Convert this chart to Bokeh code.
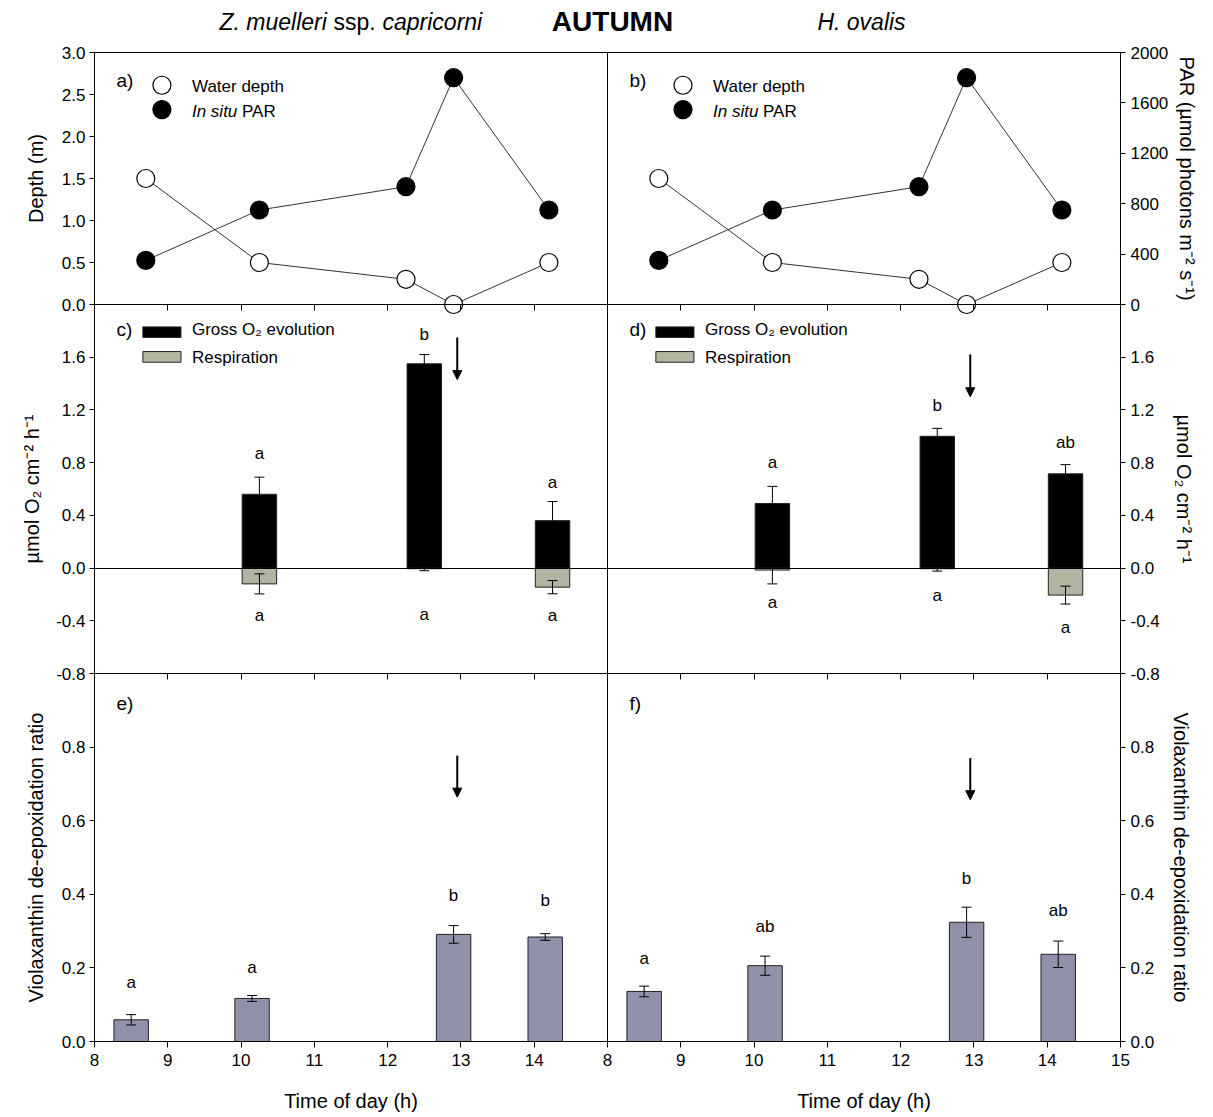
import math
from bokeh.plotting import figure
from bokeh.models import (Range1d, LinearAxis, FixedTicker, NumeralTickFormatter,
                          Label, Arrow, NormalHead, Whisker, TeeHead, ColumnDataSource)
from bokeh.embed import file_html
from bokeh.resources import INLINE
from bokeh.core.properties import value

FONT = "Liberation Sans"

# ---------------- data ----------------
hours = [8, 9, 10, 11, 12, 13, 14, 15]

profile_time = [8.7, 10.25, 12.25, 12.9, 14.2]
water_depth = [1.5, 0.5, 0.3, 0.0, 0.5]
in_situ_par = [350, 750, 935, 1800, 750]

o2_time = [10.25, 12.5, 14.25]
zm_gross = [0.56, 1.55, 0.36]
zm_gross_se = [0.13, 0.07, 0.145]
zm_resp = [-0.12, -0.005, -0.145]
zm_resp_se = [0.076, 0.015, 0.05]
ho_gross = [0.49, 1.00, 0.715]
ho_gross_se = [0.13, 0.06, 0.07]
ho_resp = [-0.015, -0.005, -0.205]
ho_resp_se = [0.105, 0.018, 0.068]

deps_time = [8.5, 10.15, 12.9, 14.15]
zm_deps = [0.059, 0.117, 0.291, 0.284]
zm_deps_se = [0.014, 0.008, 0.024, 0.009]
ho_deps = [0.136, 0.206, 0.324, 0.237]
ho_deps_se = [0.0145, 0.026, 0.041, 0.036]

zm_gross_letters = ["a", "b", "a"]
zm_gross_letter_y = [0.87, 1.77, 0.65]
zm_resp_letters = ["a", "a", "a"]
zm_resp_letter_y = [-0.36, -0.35, -0.36]
ho_gross_letters = ["a", "b", "ab"]
ho_gross_letter_y = [0.80, 1.23, 0.95]
ho_resp_letters = ["a", "a", "a"]
ho_resp_letter_y = [-0.26, -0.21, -0.45]
zm_deps_letters = ["a", "a", "b", "b"]
zm_deps_letter_y = [0.16, 0.20, 0.396, 0.383]
ho_deps_letters = ["a", "ab", "b", "ab"]
ho_deps_letter_y = [0.225, 0.313, 0.442, 0.356]

arrow_time = [12.95, 12.95]
zm_o2_arrow = [1.75, 1.43]
ho_o2_arrow = [1.62, 1.30]
zm_deps_arrow = [0.777, 0.664]
ho_deps_arrow = [0.770, 0.657]

depth_ticks = [0.0, 0.5, 1.0, 1.5, 2.0, 2.5, 3.0]
par_ticks = [0, 400, 800, 1200, 1600, 2000]
o2_ticks = [-0.8, -0.4, 0.0, 0.4, 0.8, 1.2, 1.6]
deps_ticks = [0.0, 0.2, 0.4, 0.6, 0.8]

# ---------------- layout (page pixels) ----------------
W, H = 1210, 1112
XL0, XL1 = 94, 607      # left column: 8 h .. 15 h
XR0, XR1 = 607, 1120    # right column
YA0, YA1 = 52, 304      # panel a/b (top, bottom)
YC0, YC1 = 304, 673     # panel c/d
YE0, YE1 = 673, 1041    # panel e/f
RESP_COLOR = "#b4b4a3"
DEPS_COLOR = "#9192aa"
BAR_W = 0.47
TICK_FS = "17px"
TITLE_FS = "20px"
TEXT_FS = "17px"


def x_map(v0, v1, p0, p1):
    k = (v1 - v0) / (p1 - p0)
    return Range1d(v0 - p0 * k, v0 + (W - p0) * k)


def y_map(v_top, v_bot, p_top, p_bot):
    k = (v_bot - v_top) / (p_bot - p_top)
    return Range1d(v_top + (H - p_top) * k, v_top - p_top * k)


p = figure(width=W, height=H, x_range=Range1d(0, W), y_range=Range1d(0, H),
           output_backend="svg", toolbar_location=None, title=None,
           x_axis_location=None, y_axis_location=None, min_border=0)
p.outline_line_color = None
p.xgrid.visible = False
p.ygrid.visible = False
p.background_fill_color = "white"
p.border_fill_color = "white"
p.extra_x_ranges = {"xl": x_map(8, 15, XL0, XL1), "xr": x_map(8, 15, XR0, XR1)}
p.extra_y_ranges = {"a": y_map(3.0, 0.0, YA0, YA1),
                    "par": y_map(2000, 0, YA0, YA1),
                    "c": y_map(2.0, -0.8, YC0, YC1),
                    "e": y_map(1.0, 0.0, YE0, YE1)}


def add_axis(side, xr, yr, loc, ticks=(), minor=(), bounds="auto", fmt="0.0",
             tick_out=5, minor_out=0, standoff=4):
    ax = LinearAxis(x_range_name=xr, y_range_name=yr, fixed_location=loc, bounds=bounds,
                    ticker=FixedTicker(ticks=list(ticks), minor_ticks=list(minor)),
                    formatter=NumeralTickFormatter(format=fmt))
    ax.axis_line_color = "black"
    ax.axis_line_width = 1
    ax.major_tick_line_color = "black"
    ax.major_tick_in = 0
    ax.major_tick_out = tick_out
    ax.minor_tick_line_color = "black" if minor else None
    ax.minor_tick_in = 0
    ax.minor_tick_out = minor_out
    ax.major_label_text_font = FONT
    ax.major_label_text_font_size = TICK_FS
    ax.major_label_text_color = "black"
    ax.major_label_standoff = standoff
    p.add_layout(ax, side)


def lab(x, y, text, xr="default", yr="default", size=TEXT_FS, style="normal",
        align="left", angle=0.0, x_offset=0):
    p.add_layout(Label(x=x, y=y, text=text, x_range_name=xr, y_range_name=yr,
                       text_font=FONT, text_font_size=size, text_font_style=style,
                       text_color="black", text_align=align, text_baseline="middle",
                       angle=angle, x_offset=x_offset))


# ---- frame lines shared by both columns (pixel coordinates)
add_axis("above", "default", "default", H - YA0, bounds=(XL0, XR1))
add_axis("right", "default", "default", XL1, bounds=(H - YE1, H - YA0))
add_axis("below", "default", "c", 0.0, bounds=(XL0, XR1))   # zero line of c/d

# ---- per-column axes
for xr, side, loc, xticks in [("xl", "left", 8, hours[:-1]), ("xr", "right", 15, hours)]:
    if side == "left":
        add_axis("left", xr, "a", loc, depth_ticks, bounds=(0, 3.0))
    else:
        add_axis("right", xr, "par", loc, par_ticks, bounds=(0, 2000), fmt="0", standoff=5)
    add_axis(side, xr, "c", loc, o2_ticks, bounds=(-0.8, 2.0), standoff=4 if side == "left" else 5)
    add_axis(side, xr, "e", loc, deps_ticks, bounds=(0, 1.0), standoff=4 if side == "left" else 5)
    add_axis("below", xr, "e", 0.0, xticks, bounds=(8, 15), fmt="0", tick_out=6, standoff=6)
    add_axis("below", xr, "a", 0.0, minor=hours, bounds=(8, 15), minor_out=6)
    add_axis("below", xr, "c", -0.8, minor=hours, bounds=(8, 15), minor_out=6)


def draw_column(xr, gross, gross_se, resp, resp_se, deps, deps_se,
                gl, gly, rl, rly, dl, dly, o2_arrow, deps_arrow, letters, leg):
    # ---- depth & PAR
    p.line(profile_time, water_depth, x_range_name=xr, y_range_name="a",
           line_color="#333333", line_width=1)
    p.line(profile_time, in_situ_par, x_range_name=xr, y_range_name="par",
           line_color="#333333", line_width=1)
    p.scatter(profile_time, water_depth, x_range_name=xr, y_range_name="a", marker="circle",
              size=18, fill_color="white", line_color="black", line_width=1.2)
    p.scatter(profile_time, in_situ_par, x_range_name=xr, y_range_name="par", marker="circle",
              size=18, fill_color="black", line_color="black", line_width=1.2)
    lx_c, lx_t, lx_p = leg
    p.scatter([lx_c], [2.61], x_range_name=xr, y_range_name="a", marker="circle", size=18,
              fill_color="white", line_color="black", line_width=1.2)
    p.scatter([lx_c], [2.32], x_range_name=xr, y_range_name="a", marker="circle", size=18,
              fill_color="black", line_color="black", line_width=1.2)
    lab(lx_t, 2.60, "Water depth", xr, "a")
    lab(lx_t, 2.30, "In situ", xr, "a", style="italic")
    lab(lx_t, 2.30, "PAR", xr, "a", x_offset=50)
    lab(lx_p, 2.67, letters[0], xr, "a", size="19px")

    # ---- O2 evolution / respiration
    p.vbar(x=o2_time, width=BAR_W, top=0, bottom=resp, x_range_name=xr, y_range_name="c",
           fill_color=RESP_COLOR, line_color="#222222", line_width=1)
    p.vbar(x=o2_time, width=BAR_W, top=gross, bottom=0, x_range_name=xr, y_range_name="c",
           fill_color="black", line_color="#222222", line_width=1)
    gsrc = ColumnDataSource(dict(base=o2_time, lower=gross,
                                 upper=[g + s for g, s in zip(gross, gross_se)]))
    p.add_layout(Whisker(source=gsrc, base="base", lower="lower", upper="upper",
                         x_range_name=xr, y_range_name="c", line_color="black", line_width=1,
                         upper_head=TeeHead(size=10, line_color="black", line_width=1),
                         lower_head=None, level="annotation"))
    rsrc = ColumnDataSource(dict(base=o2_time,
                                 lower=[r - s for r, s in zip(resp, resp_se)],
                                 upper=[r + s for r, s in zip(resp, resp_se)]))
    p.add_layout(Whisker(source=rsrc, base="base", lower="lower", upper="upper",
                         x_range_name=xr, y_range_name="c", line_color="black", line_width=1,
                         upper_head=TeeHead(size=10, line_color="black", line_width=1),
                         lower_head=TeeHead(size=10, line_color="black", line_width=1),
                         level="annotation"))
    for ys, ts in [(gly, gl), (rly, rl)]:
        p.text(x=o2_time, y=ys, text=ts, x_range_name=xr, y_range_name="c",
               text_font=value(FONT), text_font_size=value(TEXT_FS), text_align="center",
               text_baseline="middle", text_color="black")
    p.add_layout(Arrow(end=NormalHead(size=9, fill_color="black", line_color="black"),
                       x_start=arrow_time[0], y_start=o2_arrow[0],
                       x_end=arrow_time[1], y_end=o2_arrow[1],
                       x_range_name=xr, y_range_name="c", line_color="black", line_width=2))
    p.quad(left=[8.66], right=[9.18], top=[1.83], bottom=[1.75], x_range_name=xr,
           y_range_name="c", fill_color="black", line_color="#222222")
    p.quad(left=[8.66], right=[9.18], top=[1.643], bottom=[1.562], x_range_name=xr,
           y_range_name="c", fill_color=RESP_COLOR, line_color="#222222")
    lab(9.33, 1.81, "Gross O₂ evolution", xr, "c")
    lab(9.33, 1.60, "Respiration", xr, "c")
    lab(8.3, 1.81, letters[1], xr, "c", size="19px")

    # ---- de-epoxidation ratio
    p.vbar(x=deps_time, width=BAR_W, top=deps, bottom=0, x_range_name=xr, y_range_name="e",
           fill_color=DEPS_COLOR, line_color="#222222", line_width=1)
    dsrc = ColumnDataSource(dict(base=deps_time,
                                 lower=[d - s for d, s in zip(deps, deps_se)],
                                 upper=[d + s for d, s in zip(deps, deps_se)]))
    p.add_layout(Whisker(source=dsrc, base="base", lower="lower", upper="upper",
                         x_range_name=xr, y_range_name="e", line_color="black", line_width=1,
                         upper_head=TeeHead(size=10, line_color="black", line_width=1),
                         lower_head=TeeHead(size=10, line_color="black", line_width=1),
                         level="annotation"))
    p.text(x=deps_time, y=dly, text=dl, x_range_name=xr, y_range_name="e",
           text_font=value(FONT), text_font_size=value(TEXT_FS), text_align="center",
           text_baseline="middle", text_color="black")
    p.add_layout(Arrow(end=NormalHead(size=9, fill_color="black", line_color="black"),
                       x_start=arrow_time[0], y_start=deps_arrow[0],
                       x_end=arrow_time[1], y_end=deps_arrow[1],
                       x_range_name=xr, y_range_name="e", line_color="black", line_width=2))
    lab(8.3, 0.918, letters[2], xr, "e", size="19px")


draw_column("xl", zm_gross, zm_gross_se, zm_resp, zm_resp_se, zm_deps, zm_deps_se,
            zm_gross_letters, zm_gross_letter_y, zm_resp_letters, zm_resp_letter_y,
            zm_deps_letters, zm_deps_letter_y, zm_o2_arrow, zm_deps_arrow,
            ["a)", "c)", "e)"], (8.92, 9.33, 8.3))
draw_column("xr", ho_gross, ho_gross_se, ho_resp, ho_resp_se, ho_deps, ho_deps_se,
            ho_gross_letters, ho_gross_letter_y, ho_resp_letters, ho_resp_letter_y,
            ho_deps_letters, ho_deps_letter_y, ho_o2_arrow, ho_deps_arrow,
            ["b)", "d)", "f)"], (9.03, 9.44, 8.3))

# ---- axis titles (placed beside each panel)
up, down = math.pi / 2, -math.pi / 2
lab(35, H - (YA0 + YA1) / 2, "Depth (m)", size=TITLE_FS, align="center", angle=up)
lab(31, H - (YC0 + YC1) / 2, "µmol O₂ cm⁻² h⁻¹", size=TITLE_FS, align="center", angle=up)
lab(35, H - (YE0 + YE1) / 2, "Violaxanthin de-epoxidation ratio", size=TITLE_FS,
    align="center", angle=up)
lab(1186, H - (YA0 + YA1) / 2, "PAR (µmol photons m⁻² s⁻¹)", size=TITLE_FS,
    align="center", angle=down)
lab(1183, H - (YC0 + YC1) / 2, "µmol O₂ cm⁻² h⁻¹", size=TITLE_FS, align="center", angle=down)
lab(1180, H - (YE0 + YE1) / 2, "Violaxanthin de-epoxidation ratio", size=TITLE_FS,
    align="center", angle=down)
lab((XL0 + XL1) / 2, H - 1100, "Time of day (h)", size=TITLE_FS, align="center")
lab((XR0 + XR1) / 2, H - 1100, "Time of day (h)", size=TITLE_FS, align="center")

# ---- header
TY = H - 21
lab(219, TY, "Z. muelleri", size="23px", style="italic")
lab(333, TY, "ssp.", size="23px")
lab(382, TY, "capricorni", size="23px", style="italic")
lab(612, TY, "AUTUMN", size="28px", style="bold", align="center")
lab(861, TY, "H. ovalis", size="23px", style="italic", align="center")

open("out.html", "w").write(file_html(p, INLINE))
